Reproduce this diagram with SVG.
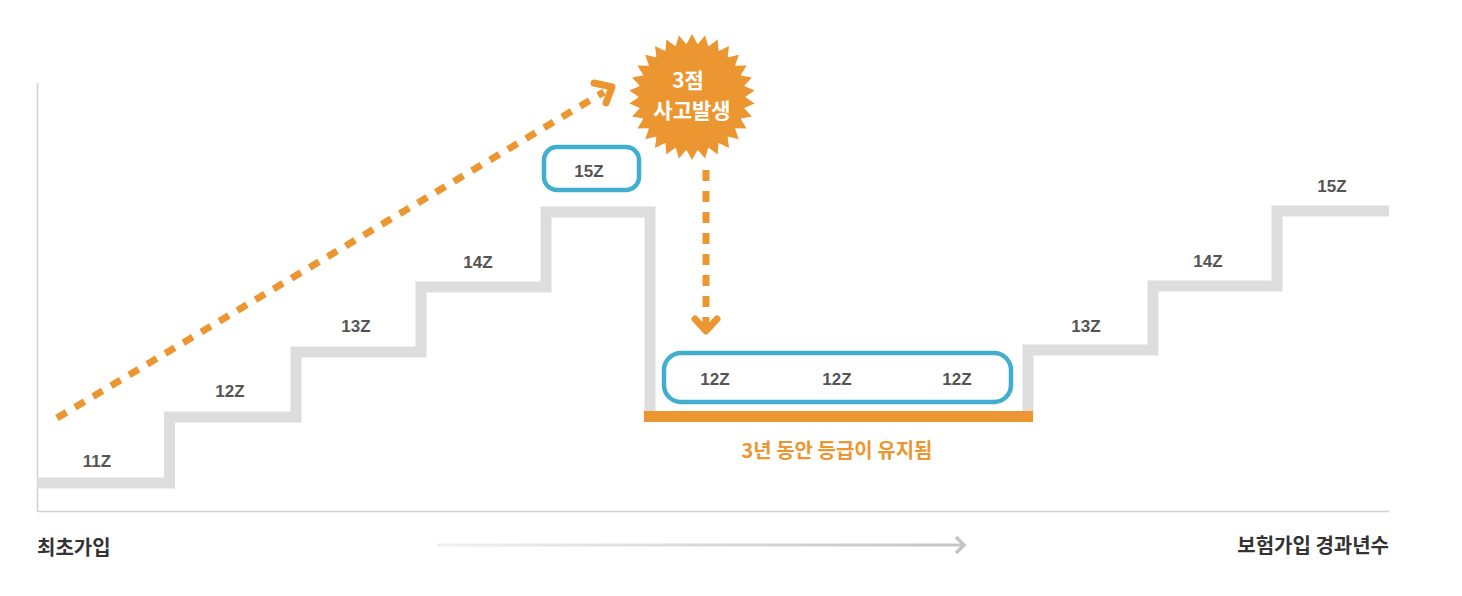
<svg xmlns="http://www.w3.org/2000/svg" xmlns:xlink="http://www.w3.org/1999/xlink" width="1462" height="596" viewBox="0 0 1462 596">
<style>
.step{fill:none;stroke:#dddddd;stroke-width:11;stroke-linejoin:miter}
.lvl{font-family:"Liberation Sans",Arial,sans-serif;font-weight:700;font-size:17px;fill:#555555;text-anchor:middle}
.kr{font-family:"Noto Sans CJK KR",sans-serif;font-weight:700;font-size:20px;fill:#333333}
.box{fill:#ffffff;stroke:#41aed0;stroke-width:4.5}
.dash{fill:none;stroke:#ec9631;stroke-width:7;stroke-dasharray:11 10}
.head{fill:none;stroke:#ec9631;stroke-width:7;stroke-linecap:round;stroke-linejoin:round}
.burst{font-family:"Noto Sans CJK KR",sans-serif;font-weight:700;font-size:21px;fill:#ffffff;text-anchor:middle}
</style>
<defs>
<linearGradient id="g" gradientUnits="userSpaceOnUse" x1="437" y1="0" x2="964" y2="0">
<stop offset="0" stop-color="#efefef"/>
<stop offset="1" stop-color="#c4c4c4"/>
</linearGradient>
<polygon id="spike" points="-6,-52 0,-63 6,-52" fill="#ec9631"/>
</defs>
<rect width="1462" height="596" fill="#ffffff"/>
<g id="axes">
<line x1="37.5" y1="83" x2="37.5" y2="511" stroke="#d0d0d0" stroke-width="1.5"/>
<line x1="37" y1="511.5" x2="1389" y2="511.5" stroke="#d0d0d0" stroke-width="1.5"/>
</g>
<g id="stairs">
<polyline class="step" points="37,483 169.5,483 169.5,417 296,417 296,352 421,352 421,287 546,287 546,212 650,212 650,414"/>
<polyline class="step" points="1028,414 1028,350 1153,350 1153,286 1277,286 1277,211 1389,211"/>
<rect x="644" y="411" width="389" height="11" fill="#ec9631"/>
</g>
<g id="levels">
<text class="lvl" x="97" y="467">11Z</text>
<text class="lvl" x="230" y="397">12Z</text>
<text class="lvl" x="356" y="332">13Z</text>
<text class="lvl" x="478" y="268">14Z</text>
<text class="lvl" x="1086" y="332">13Z</text>
<text class="lvl" x="1208" y="267">14Z</text>
<text class="lvl" x="1332" y="192">15Z</text>
</g>
<g id="box15">
<rect class="box" x="544" y="147" width="95" height="43" rx="13"/>
<text class="lvl" x="589" y="177">15Z</text>
</g>
<g id="box12">
<rect class="box" x="664" y="353" width="347" height="49" rx="17"/>
<text class="lvl" x="715" y="385">12Z</text>
<text class="lvl" x="837" y="385">12Z</text>
<text class="lvl" x="957" y="385">12Z</text>
</g>
<g id="burst" transform="translate(692,97)">
<circle r="53.5" fill="#ec9631"/>
<use xlink:href="#spike"/><use xlink:href="#spike" transform="rotate(12)"/><use xlink:href="#spike" transform="rotate(24)"/><use xlink:href="#spike" transform="rotate(36)"/><use xlink:href="#spike" transform="rotate(48)"/><use xlink:href="#spike" transform="rotate(60)"/><use xlink:href="#spike" transform="rotate(72)"/><use xlink:href="#spike" transform="rotate(84)"/><use xlink:href="#spike" transform="rotate(96)"/><use xlink:href="#spike" transform="rotate(108)"/><use xlink:href="#spike" transform="rotate(120)"/><use xlink:href="#spike" transform="rotate(132)"/><use xlink:href="#spike" transform="rotate(144)"/><use xlink:href="#spike" transform="rotate(156)"/><use xlink:href="#spike" transform="rotate(168)"/><use xlink:href="#spike" transform="rotate(180)"/><use xlink:href="#spike" transform="rotate(192)"/><use xlink:href="#spike" transform="rotate(204)"/><use xlink:href="#spike" transform="rotate(216)"/><use xlink:href="#spike" transform="rotate(228)"/><use xlink:href="#spike" transform="rotate(240)"/><use xlink:href="#spike" transform="rotate(252)"/><use xlink:href="#spike" transform="rotate(264)"/><use xlink:href="#spike" transform="rotate(276)"/><use xlink:href="#spike" transform="rotate(288)"/><use xlink:href="#spike" transform="rotate(300)"/><use xlink:href="#spike" transform="rotate(312)"/><use xlink:href="#spike" transform="rotate(324)"/><use xlink:href="#spike" transform="rotate(336)"/><use xlink:href="#spike" transform="rotate(348)"/>
<text class="burst" x="-4" y="-9">3점</text>
<text class="burst" x="0" y="21">사고발생</text>
</g>
<g id="connectors">
<line class="dash" x1="57" y1="418" x2="604" y2="92"/>
<polyline class="head" points="594,83 612,87 606,103"/>
<line class="dash" x1="706" y1="170" x2="706" y2="326"/>
<polyline class="head" points="695,319 706,331 717,319"/>
<line x1="437" y1="545" x2="964" y2="545" stroke="url(#g)" stroke-width="3"/>
<polyline points="956,537 964,545 956,553" fill="none" stroke="#c4c4c4" stroke-width="3.5"/>
</g>
<g id="labels">
<text class="kr" x="37" y="555">최초가입</text>
<text class="kr" x="1389" y="553" text-anchor="end">보험가입 경과년수</text>
<text class="kr" x="837" y="458" text-anchor="middle" style="fill:#ec9631">3년 동안 등급이 유지됨</text>
</g>
</svg>
